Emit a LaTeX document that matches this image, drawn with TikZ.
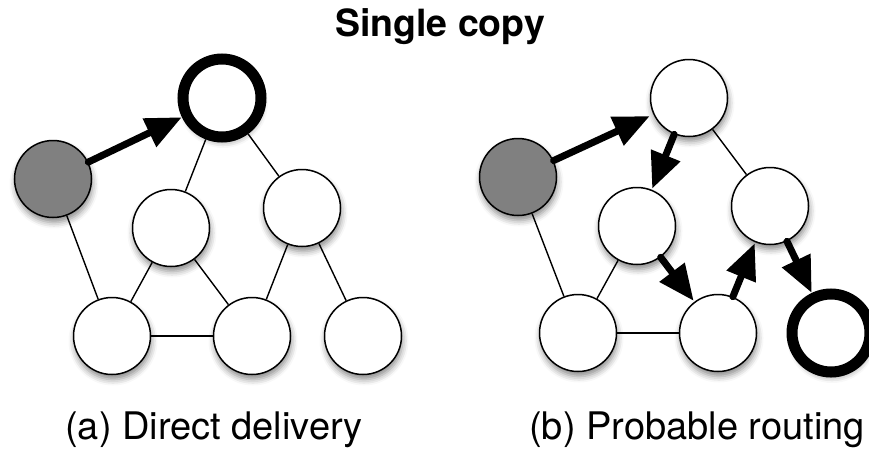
\documentclass[tikz,border=0pt]{standalone}
\usepackage{fontspec}
\setmainfont{TeX Gyre Heros}
\usetikzlibrary{arrows.meta,shadows.blur}

\tikzset{
  vertex/.style={circle, draw=black, line width=1.5pt, fill=white,
    minimum size=77pt, inner sep=0pt,
    blur shadow={shadow xshift=1pt, shadow yshift=-5pt,
      shadow blur radius=6pt, shadow opacity=45}},
  source/.style={vertex, fill=black!50},
  target/.style={vertex, line width=11pt, minimum size=78pt},
  link/.style={draw=black, line width=1.4pt},
  hop/.style={draw=black, line width=7pt, line cap=round,
    -{Triangle[length=36pt,width=30pt]}, shorten >=1pt},
  caption/.style={anchor=base, font=\fontsize{38}{40}\selectfont},
  heading/.style={anchor=base, font=\fontsize{37.5}{40}\selectfont\bfseries}
}

\begin{document}
\begin{tikzpicture}[x=1pt, y=-1pt]
  \useasboundingbox (0,0) rectangle (869,450);

  \node[heading] (title) at (440,36) {Single copy};

  % (a) direct delivery
  \node[source] (gA)  at (53,179)  {};
  \node[target] (tA)  at (222,98)  {};
  \node[vertex] (mlA) at (171,228) {};
  \node[vertex] (mrA) at (302,208) {};
  \node[vertex] (blA) at (112,336) {};
  \node[vertex] (bmA) at (252,336) {};
  \node[vertex] (brA) at (363,336) {};

  \draw[link] (gA) -- (blA);
  \draw[link] (tA) -- (mlA);
  \draw[link] (tA) -- (mrA);
  \draw[link] (mlA) -- (blA);
  \draw[link] (mlA) -- (bmA);
  \draw[link] (blA) -- (bmA);
  \draw[link] (mrA) -- (bmA);
  \draw[link] (mrA) -- (brA);
  \draw[hop, shorten >=0pt] (gA) -- (tA);

  \node[caption] (capA) at (214,439) {(a) Direct delivery};

  % (b) probable routing
  \node[source] (gB)  at (518,177) {};
  \node[vertex] (tB)  at (689,98)  {};
  \node[vertex] (mlB) at (637,226) {};
  \node[vertex] (mrB) at (770,206) {};
  \node[vertex] (blB) at (578,333) {};
  \node[vertex] (bmB) at (718,333) {};
  \node[target] (brB) at (831,333) {};

  \draw[link] (gB) -- (blB);
  \draw[link] (tB) -- (mrB);
  \draw[link] (mlB) -- (blB);
  \draw[link] (blB) -- (bmB);
  \draw[hop, shorten >=4pt] (gB) -- (tB);
  \draw[hop] (tB) -- (mlB);
  \draw[hop] (mlB) -- (bmB);
  \draw[hop] (bmB) -- (mrB);
  \draw[hop, shorten >=0pt] (mrB) -- (brB);

  \node[caption] (capB) at (697,439) {(b) Probable routing};
\end{tikzpicture}
\end{document}
